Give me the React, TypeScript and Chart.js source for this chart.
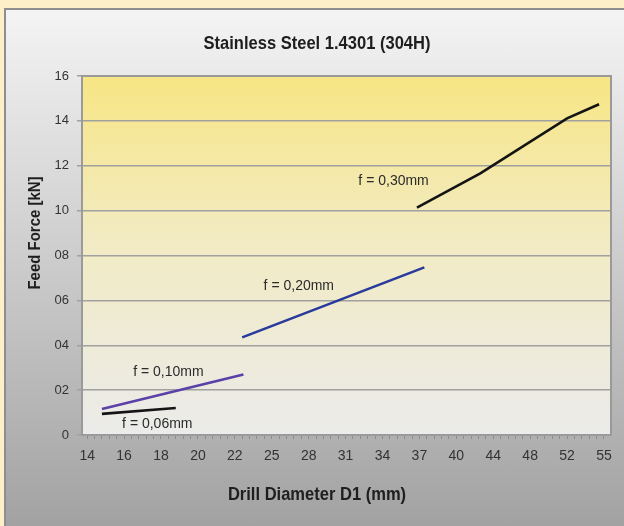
import React, { useEffect, useRef } from "react";
import { Chart, registerables } from "chart.js";
Chart.register(...registerables);

const FONT = '"Liberation Sans", Arial, sans-serif';

const chartTitle = "Stainless Steel 1.4301 (304H)";
const xAxisTitle = "Drill Diameter D1 (mm)";
const yAxisTitle = "Feed Force [kN]";

const xTickLabels = [14, 16, 18, 20, 22, 25, 28, 31, 34, 37, 40, 44, 48, 52, 55];
const yTickLabels = ["0", "02", "04", "06", "08", "10", "12", "14", "16"];

const seriesNames = ["f = 0,06mm", "f = 0,10mm", "f = 0,20mm", "f = 0,30mm"];
const d006 = [14.8, 18.8];
const f006 = [0.94, 1.2];
const d010 = [14.8, 22.7];
const f010 = [1.16, 2.7];
const d020 = [22.6, 37.4];
const f020 = [4.35, 7.47];
const d030 = [36.8, 42.6, 52.0, 54.6];
const f030 = [10.13, 11.66, 14.11, 14.74];
const seriesColors = ["#141414", "#5a40a8", "#2a3a9c", "#141414"];

// label anchors in data units (diameter, force)
const labelD = [17.8, 18.4, 27.2, 34.9];
const labelF = [0.49, 2.82, 6.65, 11.33];

function toIndex(d: number): number {
  const t = xTickLabels;
  if (d <= t[0]) return (d - t[0]) / (t[1] - t[0]);
  for (let i = 0; i < t.length - 1; i++) {
    if (d >= t[i] && d <= t[i + 1]) return i + (d - t[i]) / (t[i + 1] - t[i]);
  }
  const n = t.length - 1;
  return n + (d - t[n]) / (t[n] - t[n - 1]);
}

function pts(ds: number[], fs: number[]) {
  return ds.map((d, i) => ({ x: toIndex(d), y: fs[i] }));
}

const seriesD = [d006, d010, d020, d030];
const seriesF = [f006, f010, f020, f030];

function drawScaled(ctx: any, text: string, x: number, y: number, font: string, sx: number, rot = 0) {
  ctx.save();
  ctx.translate(x, y);
  if (rot) ctx.rotate(rot);
  ctx.scale(sx, 1);
  ctx.font = font;
  ctx.textAlign = "center";
  ctx.textBaseline = "middle";
  ctx.fillText(text, 0, 0);
  ctx.restore();
}

export default function App() {
  const ref = useRef<HTMLCanvasElement | null>(null);

  useEffect(() => {
    const canvas = ref.current;
    if (!canvas) return;

    const decor = {
      id: "decor",
      beforeDraw(chart: any) {
        const { ctx, chartArea: a } = chart;
        ctx.save();
        const g = ctx.createLinearGradient(0, a.top, 0, a.bottom);
        g.addColorStop(0, "#f7e684");
        g.addColorStop(0.45, "#f2ebc2");
        g.addColorStop(1, "#ebebea");
        ctx.fillStyle = g;
        ctx.fillRect(a.left, a.top, a.right - a.left, a.bottom - a.top);
        ctx.restore();
      },
      afterDraw(chart: any) {
        const { ctx, chartArea: a, scales } = chart;
        ctx.save();
        ctx.strokeStyle = "#9a9a9a";
        ctx.lineWidth = 2;
        ctx.strokeRect(a.left, a.top, a.right - a.left, a.bottom - a.top);

        // series labels
        ctx.fillStyle = "#2a2a2a";
        seriesNames.forEach((n, i) => {
          const x = scales.x.getPixelForValue(toIndex(labelD[i]));
          const y = scales.y.getPixelForValue(labelF[i]);
          drawScaled(ctx, n, x, y, `14px ${FONT}`, 1);
        });

        // titles
        ctx.fillStyle = "#1e1e1e";
        drawScaled(ctx, chartTitle, 317, 44, `bold 19px ${FONT}`, 0.87);
        drawScaled(ctx, xAxisTitle, 317, 495, `bold 19px ${FONT}`, 0.87);
        drawScaled(ctx, yAxisTitle, 35, 233, `bold 17px ${FONT}`, 0.88, -Math.PI / 2);
        ctx.restore();
      },
    };

    const chart = new Chart(canvas, {
      type: "line",
      data: {
        datasets: seriesNames.map((n, i) => ({
          label: n,
          data: pts(seriesD[i], seriesF[i]),
          borderColor: seriesColors[i],
          backgroundColor: seriesColors[i],
          borderWidth: 2.6,
          pointRadius: 0,
          tension: 0,
          fill: false,
        })),
      },
      options: {
        responsive: false,
        animation: false,
        devicePixelRatio: 1,
        layout: { padding: { top: 76, right: 13, left: 0, bottom: 0 } },
        plugins: {
          legend: { display: false },
          title: { display: false },
          tooltip: { enabled: false },
        },
        scales: {
          x: {
            type: "linear",
            min: -0.14,
            max: 14.19,
            afterBuildTicks: (s: any) => {
              const arr = [];
              for (let i = 0; i <= 70; i++) arr.push({ value: i / 5 });
              s.ticks = arr;
            },
            afterFit: (s: any) => {
              s.height = 91;
            },
            ticks: {
              autoSkip: false,
              maxRotation: 0,
              minRotation: 0,
              padding: 9,
              color: "#333333",
              font: { family: FONT, size: 14 },
              callback: (v: any) => {
                const r = Math.round(v);
                return Math.abs(v - r) < 1e-6 ? String(xTickLabels[r]) : "";
              },
            },
            grid: {
              drawOnChartArea: false,
              drawTicks: true,
              tickLength: 4,
              color: "#8c8c8c",
              lineWidth: 1,
            },
            border: { display: true, color: "#9a9a9a", width: 2 },
          },
          y: {
            min: 0,
            max: 16,
            afterFit: (s: any) => {
              s.width = 82;
            },
            ticks: {
              stepSize: 2,
              padding: 8,
              color: "#333333",
              font: { family: FONT, size: 13 },
              callback: (v: any) => yTickLabels[Math.round(v / 2)],
            },
            grid: {
              color: "#a0a0a0",
              lineWidth: 1.5,
              tickLength: 5,
              drawTicks: true,
            },
            border: { display: true, color: "#9a9a9a", width: 2 },
          },
        },
      },
      plugins: [decor],
    } as any);

    return () => chart.destroy();
  }, []);

  return (
    <div
      style={{
        position: "absolute",
        left: 0,
        top: 0,
        width: 624,
        height: 526,
        overflow: "hidden",
        background: "#fdf0c9",
      }}
    >
      <div
        style={{
          position: "absolute",
          left: 4,
          top: 8,
          width: 620,
          height: 518,
          boxSizing: "border-box",
          borderLeft: "2px solid #8e8e8e",
          borderTop: "2px solid #8e8e8e",
          background: "linear-gradient(#f4f4f4, #a2a2a2)",
        }}
      />
      <canvas
        ref={ref}
        width={624}
        height={526}
        style={{ position: "absolute", left: 0, top: 0, width: 624, height: 526 }}
      />
    </div>
  );
}
